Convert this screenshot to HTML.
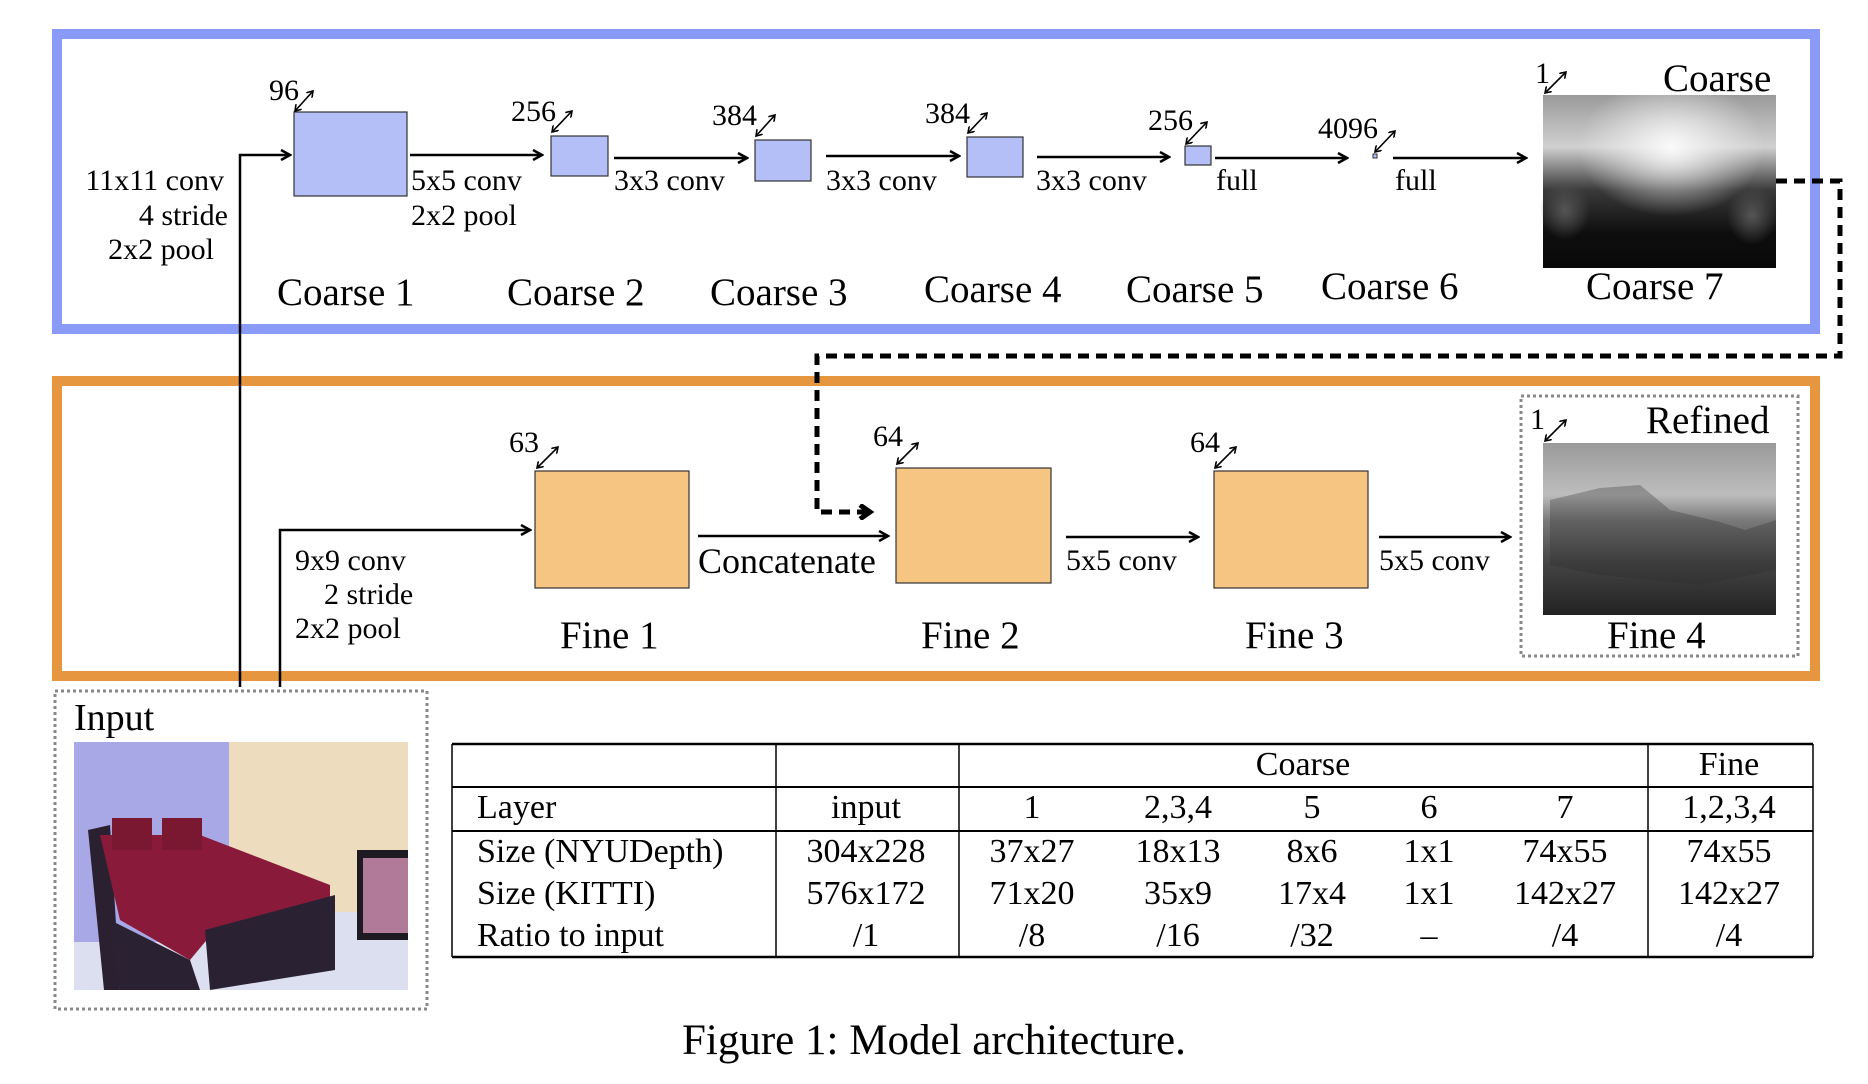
<!DOCTYPE html>
<html><head><meta charset="utf-8"><style>
html,body{margin:0;padding:0;background:#fff;}
svg{display:block;}
text{font-family:"Liberation Serif",serif;fill:#000;}
</style></head><body>
<svg width="1868" height="1084" viewBox="0 0 1868 1084" xmlns="http://www.w3.org/2000/svg">
<defs>
<marker id="ah" markerWidth="12" markerHeight="12" refX="10" refY="6" orient="auto" markerUnits="userSpaceOnUse">
<path d="M1,1 L10,6 L1,11" fill="none" stroke="#000" stroke-width="2.5"/>
</marker>
<marker id="sa" markerWidth="8" markerHeight="8" refX="6" refY="4" orient="auto-start-reverse" markerUnits="userSpaceOnUse">
<path d="M0,0 L6,4 L0,8" fill="none" stroke="#000" stroke-width="1.6"/>
</marker>
<marker id="big" markerWidth="16" markerHeight="16" refX="12" refY="8" orient="auto" markerUnits="userSpaceOnUse">
<path d="M2,1 L12,8 L2,15" fill="none" stroke="#000" stroke-width="5"/>
</marker>
<radialGradient id="cw" cx="0.55" cy="0.3" r="0.4"><stop offset="0" stop-color="#fafafa"/><stop offset="1" stop-color="#f0f0f0" stop-opacity="0"/></radialGradient>
<linearGradient id="cv" x1="0" y1="0" x2="0" y2="1"><stop offset="0" stop-color="#9a9a9a"/><stop offset="0.3" stop-color="#d0d0d0"/><stop offset="0.55" stop-color="#3a3a3a"/><stop offset="0.8" stop-color="#0e0e0e"/><stop offset="1" stop-color="#080808"/></linearGradient>
<linearGradient id="rf" x1="0" y1="0" x2="0" y2="1"><stop offset="0" stop-color="#9a9a9a"/><stop offset="0.3" stop-color="#bdbdbd"/><stop offset="0.45" stop-color="#7a7a7a"/><stop offset="0.7" stop-color="#444"/><stop offset="1" stop-color="#222"/></linearGradient>
<radialGradient id="blob" cx="0.5" cy="0.5" r="0.5"><stop offset="0" stop-color="#555"/><stop offset="1" stop-color="#555" stop-opacity="0"/></radialGradient>
</defs>

<rect x="57" y="34" width="1758" height="295" fill="none" stroke="#8a9af7" stroke-width="10"/>
<rect x="57" y="381" width="1758" height="295" fill="none" stroke="#e5963e" stroke-width="10"/>

<rect x="294" y="112" width="113" height="84" fill="#b4bff7" stroke="#333" stroke-width="1.2"/>
<rect x="551" y="136" width="57" height="40" fill="#b4bff7" stroke="#333" stroke-width="1.2"/>
<rect x="755" y="140" width="56" height="41" fill="#b4bff7" stroke="#333" stroke-width="1.2"/>
<rect x="967" y="137" width="56" height="40" fill="#b4bff7" stroke="#333" stroke-width="1.2"/>
<rect x="1185" y="146" width="26" height="19" fill="#b4bff7" stroke="#333" stroke-width="1.2"/>
<rect x="1373" y="154" width="4" height="4" fill="#b4bff7" stroke="#333" stroke-width="1"/>

<rect x="1543" y="95" width="233" height="173" fill="url(#cv)"/>
<rect x="1543" y="95" width="233" height="173" fill="url(#cw)"/>
<ellipse cx="1565" cy="210" rx="25" ry="30" fill="url(#blob)"/>
<ellipse cx="1752" cy="215" rx="25" ry="30" fill="url(#blob)"/>

<g stroke="#000" stroke-width="2.5" fill="none">
<path d="M240,687 L240,155 L290,155" marker-end="url(#ah)"/>
<line x1="410" y1="155" x2="542" y2="155" marker-end="url(#ah)"/>
<line x1="614" y1="158" x2="747" y2="158" marker-end="url(#ah)"/>
<line x1="826" y1="156" x2="959" y2="156" marker-end="url(#ah)"/>
<line x1="1037" y1="157" x2="1169" y2="157" marker-end="url(#ah)"/>
<line x1="1215" y1="158" x2="1347" y2="158" marker-end="url(#ah)"/>
<line x1="1393" y1="158" x2="1526" y2="158" marker-end="url(#ah)"/>
</g>
<g stroke="#000" stroke-width="1.6" fill="none">
<line x1="295" y1="111" x2="313" y2="91" marker-start="url(#sa)" marker-end="url(#sa)"/>
<line x1="552" y1="132" x2="572" y2="111" marker-start="url(#sa)" marker-end="url(#sa)"/>
<line x1="756" y1="136" x2="775" y2="115" marker-start="url(#sa)" marker-end="url(#sa)"/>
<line x1="968" y1="133" x2="987" y2="113" marker-start="url(#sa)" marker-end="url(#sa)"/>
<line x1="1186" y1="144" x2="1207" y2="122" marker-start="url(#sa)" marker-end="url(#sa)"/>
<line x1="1375" y1="152" x2="1395" y2="131" marker-start="url(#sa)" marker-end="url(#sa)"/>
<line x1="1545" y1="93" x2="1566" y2="72" marker-start="url(#sa)" marker-end="url(#sa)"/>
<line x1="1545" y1="441" x2="1566" y2="420" marker-start="url(#sa)" marker-end="url(#sa)"/>
<line x1="537" y1="468" x2="558" y2="447" marker-start="url(#sa)" marker-end="url(#sa)"/>
<line x1="897" y1="464" x2="918" y2="443" marker-start="url(#sa)" marker-end="url(#sa)"/>
<line x1="1215" y1="468" x2="1236" y2="447" marker-start="url(#sa)" marker-end="url(#sa)"/>
</g>

<g font-size="30">
<text x="224" y="190" text-anchor="end">11x11 conv</text>
<text x="228" y="225" text-anchor="end">4 stride</text>
<text x="214" y="259" text-anchor="end">2x2 pool</text>
<text x="411" y="190">5x5 conv</text>
<text x="411" y="225">2x2 pool</text>
<text x="614" y="190">3x3 conv</text>
<text x="826" y="190">3x3 conv</text>
<text x="1036" y="190">3x3 conv</text>
<text x="1216" y="190">full</text>
<text x="1395" y="190">full</text>
<text x="269" y="100">96</text>
<text x="511" y="121">256</text>
<text x="712" y="125">384</text>
<text x="925" y="123">384</text>
<text x="1148" y="130">256</text>
<text x="1318" y="138">4096</text>
<text x="1535" y="83">1</text>
<text x="1530" y="429">1</text>
<text x="295" y="570">9x9 conv</text>
<text x="324" y="604">2 stride</text>
<text x="295" y="638">2x2 pool</text>
<text x="1066" y="570">5x5 conv</text>
<text x="1379" y="570">5x5 conv</text>
<text x="509" y="452">63</text>
<text x="873" y="446">64</text>
<text x="1190" y="452">64</text>
</g>
<g font-size="39">
<text x="277" y="305">Coarse 1</text>
<text x="507" y="305">Coarse 2</text>
<text x="710" y="305">Coarse 3</text>
<text x="924" y="302">Coarse 4</text>
<text x="1126" y="302">Coarse 5</text>
<text x="1321" y="299">Coarse 6</text>
<text x="1586" y="299">Coarse 7</text>
<text x="1663" y="91">Coarse</text>
<text x="1646" y="433">Refined</text>
<text x="560" y="648">Fine 1</text>
<text x="921" y="648">Fine 2</text>
<text x="1245" y="648">Fine 3</text>
<text x="1607" y="648">Fine 4</text>
</g>
<text x="698" y="573" font-size="36">Concatenate</text>

<rect x="535" y="471" width="154" height="117" fill="#f5c581" stroke="#333" stroke-width="1.2"/>
<rect x="896" y="468" width="155" height="115" fill="#f5c581" stroke="#333" stroke-width="1.2"/>
<rect x="1214" y="471" width="154" height="117" fill="#f5c581" stroke="#333" stroke-width="1.2"/>

<rect x="1521" y="396" width="277" height="260" fill="none" stroke="#888" stroke-width="3" stroke-dasharray="3,3"/>
<rect x="1543" y="443" width="233" height="172" fill="url(#rf)"/>
<path d="M1550,500 L1600,488 L1640,485 L1670,510 L1720,522 L1745,530 L1776,520 L1776,570 L1700,585 L1600,575 L1550,565 Z" fill="#2a2a2a" opacity="0.3"/>

<g stroke="#000" stroke-width="2.5" fill="none">
<path d="M280,687 L280,530 L530,530" marker-end="url(#ah)"/>
<line x1="698" y1="536" x2="888" y2="536" marker-end="url(#ah)"/>
<line x1="1066" y1="537" x2="1198" y2="537" marker-end="url(#ah)"/>
<line x1="1379" y1="537" x2="1510" y2="537" marker-end="url(#ah)"/>
</g>
<path d="M1776,181 L1840,181 L1840,356 L817,356 L817,512 L870,512" fill="none" stroke="#000" stroke-width="5" stroke-dasharray="11,7" marker-end="url(#big)"/>

<rect x="55" y="691" width="372" height="318" fill="none" stroke="#888" stroke-width="3" stroke-dasharray="3,3"/>
<text x="74" y="730" font-size="38">Input</text>
<g>
<rect x="74" y="742" width="334" height="248" fill="#dcdff0"/>
<rect x="74" y="742" width="155" height="200" fill="#a9a8e6"/>
<rect x="229" y="742" width="179" height="170" fill="#eedcbf"/>
<rect x="357" y="850" width="51" height="90" fill="#1e1a22"/>
<rect x="363" y="858" width="45" height="75" fill="#b07a98"/>
<polygon points="88,830 110,825 120,990 104,990" fill="#2a2030"/>
<polygon points="100,835 200,835 330,885 330,905 215,930 190,960 120,920" fill="#8a1a3a"/>
<rect x="112" y="818" width="40" height="32" fill="#7a1832"/>
<rect x="162" y="818" width="40" height="32" fill="#7a1832"/>
<polygon points="205,930 335,895 335,970 210,990" fill="#2a2232"/>
<polygon points="110,920 190,960 200,990 120,990" fill="#2a2232"/>
</g>

<g stroke="#000" fill="none">
<line x1="452" y1="744" x2="1813" y2="744" stroke-width="2.5"/>
<line x1="452" y1="787" x2="1813" y2="787" stroke-width="2"/>
<line x1="452" y1="831" x2="1813" y2="831" stroke-width="2"/>
<line x1="452" y1="957" x2="1813" y2="957" stroke-width="2.5"/>
<line x1="452" y1="744" x2="452" y2="957" stroke-width="1.5"/>
<line x1="776" y1="744" x2="776" y2="957" stroke-width="1.5"/>
<line x1="959" y1="744" x2="959" y2="957" stroke-width="1.5"/>
<line x1="1648" y1="744" x2="1648" y2="957" stroke-width="1.5"/>
<line x1="1813" y1="744" x2="1813" y2="957" stroke-width="1.5"/>
</g>
<g font-size="34">
<text x="1303" y="775" text-anchor="middle">Coarse</text>
<text x="1729" y="775" text-anchor="middle">Fine</text>
<text x="477" y="818">Layer</text>
<text x="477" y="862">Size (NYUDepth)</text>
<text x="477" y="904">Size (KITTI)</text>
<text x="477" y="946">Ratio to input</text>
<g text-anchor="middle">
<text x="866" y="818">input</text><text x="1032" y="818">1</text><text x="1178" y="818">2,3,4</text><text x="1312" y="818">5</text><text x="1429" y="818">6</text><text x="1565" y="818">7</text><text x="1729" y="818">1,2,3,4</text>
<text x="866" y="862">304x228</text><text x="1032" y="862">37x27</text><text x="1178" y="862">18x13</text><text x="1312" y="862">8x6</text><text x="1429" y="862">1x1</text><text x="1565" y="862">74x55</text><text x="1729" y="862">74x55</text>
<text x="866" y="904">576x172</text><text x="1032" y="904">71x20</text><text x="1178" y="904">35x9</text><text x="1312" y="904">17x4</text><text x="1429" y="904">1x1</text><text x="1565" y="904">142x27</text><text x="1729" y="904">142x27</text>
<text x="866" y="946">/1</text><text x="1032" y="946">/8</text><text x="1178" y="946">/16</text><text x="1312" y="946">/32</text><text x="1429" y="946">–</text><text x="1565" y="946">/4</text><text x="1729" y="946">/4</text>
</g>
</g>
<text x="682" y="1054" font-size="43">Figure 1: Model architecture.</text>
</svg>
</body></html>
